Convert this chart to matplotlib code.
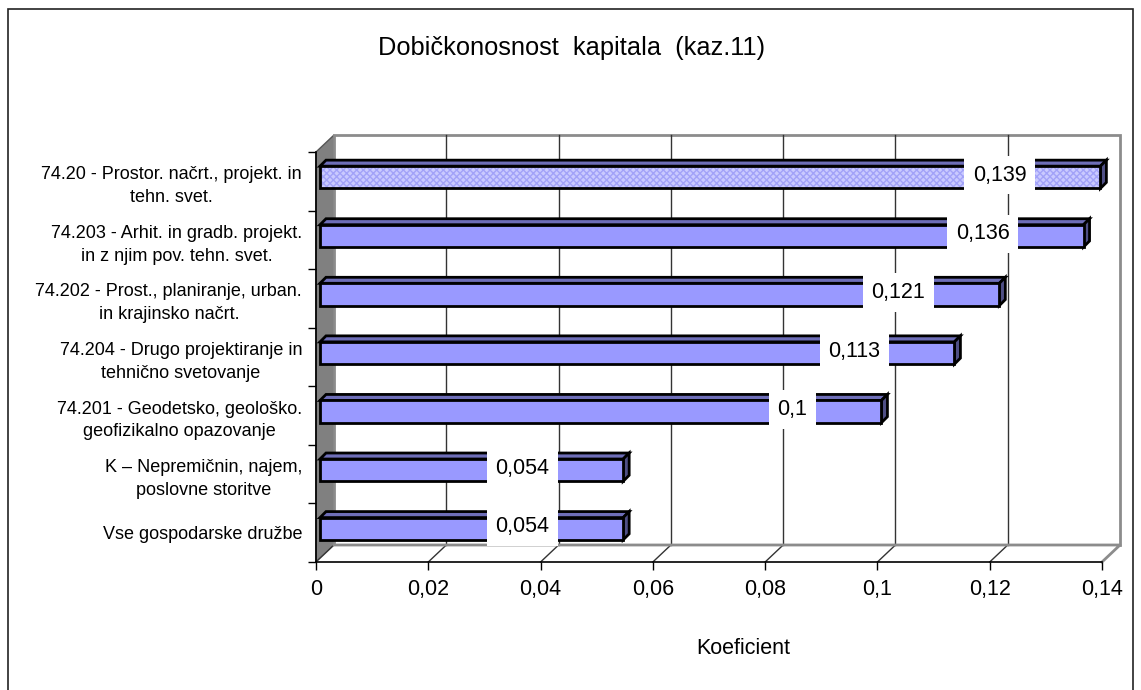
import numpy as np
import matplotlib.pyplot as plt
from matplotlib.patches import Polygon, Rectangle
from matplotlib.transforms import IdentityTransform

plt.rcParams['font.family'] = ['Liberation Sans', 'DejaVu Sans']
plt.rcParams['hatch.linewidth'] = 1.0

title = "Dobičkonosnost  kapitala  (kaz.11)"
x_title = "Koeficient"

categories = [
    "74.20 - Prostor. načrt., projekt. in\ntehn. svet.",
    "74.203 - Arhit. in gradb. projekt.\nin z njim pov. tehn. svet.",
    "74.202 - Prost., planiranje, urban.\nin krajinsko načrt.",
    "74.204 - Drugo projektiranje in\ntehnično svetovanje",
    "74.201 - Geodetsko, geološko.\ngeofizikalno opazovanje",
    "K – Nepremičnin, najem,\nposlovne storitve",
    "Vse gospodarske družbe",
]
values = [0.139, 0.136, 0.121, 0.113, 0.1, 0.054, 0.054]
value_labels = ["0,139", "0,136", "0,121", "0,113", "0,1", "0,054", "0,054"]
x_ticks = [0, 0.02, 0.04, 0.06, 0.08, 0.1, 0.12, 0.14]
x_tick_labels = ["0", "0,02", "0,04", "0,06", "0,08", "0,1", "0,12", "0,14"]

W, H = 1141, 690
fig = plt.figure(figsize=(W / 100, H / 100), dpi=100)
ax = fig.add_axes([316 / W, 128 / H, 786 / W, 410 / H])
n = len(categories)
ax.set_xlim(x_ticks[0], x_ticks[-1])
ax.set_ylim(n - 0.5, -0.5)
ax.patch.set_visible(False)
for s in ["top", "right"]:
    ax.spines[s].set_visible(False)

wall = (18, 17)     # depth of the 3D box, pixels
bar_front = (4, 4)
bar_back = (10, 10)
ident = IdentityTransform()


def proj(xs, ys, offs):
    p = ax.transData.transform(np.column_stack([xs, ys]))
    return p + np.array(offs, dtype=float)


def face(xs, ys, offs, **kw):
    p = Polygon(proj(xs, ys, offs), closed=True, transform=ident, clip_on=False, **kw)
    ax.add_patch(p)


def line(xs, ys, offs, **kw):
    p = proj(xs, ys, offs)
    ax.plot(p[:, 0], p[:, 1], transform=ident, clip_on=False, **kw)


x0, x1 = x_ticks[0], x_ticks[-1]
ytop, ybot = -0.5, n - 0.5
z0 = (0, 0)

# walls and floor
face([x0, x0, x0, x0], [ytop, ybot, ybot, ytop], [z0, z0, wall, wall],
     facecolor="#808080", edgecolor="#555555", lw=1, zorder=1)
face([x0, x1, x1, x0], [ytop, ytop, ybot, ybot], [wall] * 4,
     facecolor="white", edgecolor="#8c8c8c", lw=2, zorder=1)
face([x0, x1, x1, x0], [ybot, ybot, ybot, ybot], [z0, z0, wall, wall],
     facecolor="white", edgecolor="none", zorder=1)
line([x0, x1, x1], [ybot, ybot, ybot], [wall, wall, z0], color="#8c8c8c", lw=2, zorder=1.2)
for t in x_ticks[1:-1]:
    line([t, t], [ybot, ytop], [wall, wall], color="#333333", lw=1, zorder=1.1)
for t in x_ticks[:-1]:
    line([t, t], [ybot, ybot], [z0, wall], color="#333333", lw=1, zorder=1.1)

# bars
h = 0.19
for i, v in enumerate(values):
    ya, yb = i - h, i + h
    face([0, v, v, 0], [ya, ya, ya, ya], [bar_front, bar_front, bar_back, bar_back],
         facecolor="#6e6eb8", edgecolor="black", lw=2, joinstyle="miter", zorder=3)
    face([v, v, v, v], [ya, yb, yb, ya], [bar_front, bar_front, bar_back, bar_back],
         facecolor="#4f4f85", edgecolor="black", lw=2, joinstyle="miter", zorder=3)
    if i == 0:
        face([0, v, v, 0], [ya, ya, yb, yb], [bar_front] * 4,
             facecolor="#cacaff", edgecolor="none", zorder=3.1)
        face([0, v, v, 0], [ya, ya, yb, yb], [bar_front] * 4,
             facecolor="none", edgecolor="#a2a2f8", lw=0, hatch="xxxxx", zorder=3.2)
        face([0, v, v, 0], [ya, ya, yb, yb], [bar_front] * 4,
             facecolor="none", edgecolor="black", lw=2, joinstyle="miter", zorder=3.3)
    else:
        face([0, v, v, 0], [ya, ya, yb, yb], [bar_front] * 4,
             facecolor="#9999ff", edgecolor="black", lw=2, joinstyle="miter", zorder=3.3)

for i, (v, lab) in enumerate(zip(values, value_labels)):
    ax.annotate(lab, xy=(v, i), xytext=(-70, 6), textcoords="offset pixels",
                ha="right", va="center", fontsize=15.5, zorder=5,
                bbox=dict(boxstyle="square,pad=0.4", fc="white", ec="none"))

# axes
ax.set_xticks(x_ticks, x_tick_labels)
ax.tick_params(axis="x", direction="out", length=5.8, width=1, pad=6.5, labelsize=15.5)
ax.set_yticks(range(n), categories)
ax.set_yticks(np.arange(n + 1) - 0.5, minor=True)
ax.tick_params(axis="y", which="major", length=0, pad=10, labelsize=13)
ax.tick_params(axis="y", which="minor", direction="out", length=5.8, width=1)
for lbl in ax.get_yticklabels():
    lbl.set_multialignment("center")
    lbl.set_linespacing(1.45)
ax.spines["left"].set_linewidth(1.2)
ax.spines["bottom"].set_linewidth(1.2)

fig.text(572 / W, 1 - 48 / H, title, ha="center", va="center", fontsize=18.3)
fig.text(743 / W, 1 - 648 / H, x_title, ha="center", va="center", fontsize=15.5)

fig.patches.append(Rectangle((8 / W, -0.02), 1125 / W, (H - 9) / H + 0.02,
                             transform=fig.transFigure, fill=False,
                             edgecolor="#222222", lw=1.2))

fig.savefig("out.png", dpi=100)
